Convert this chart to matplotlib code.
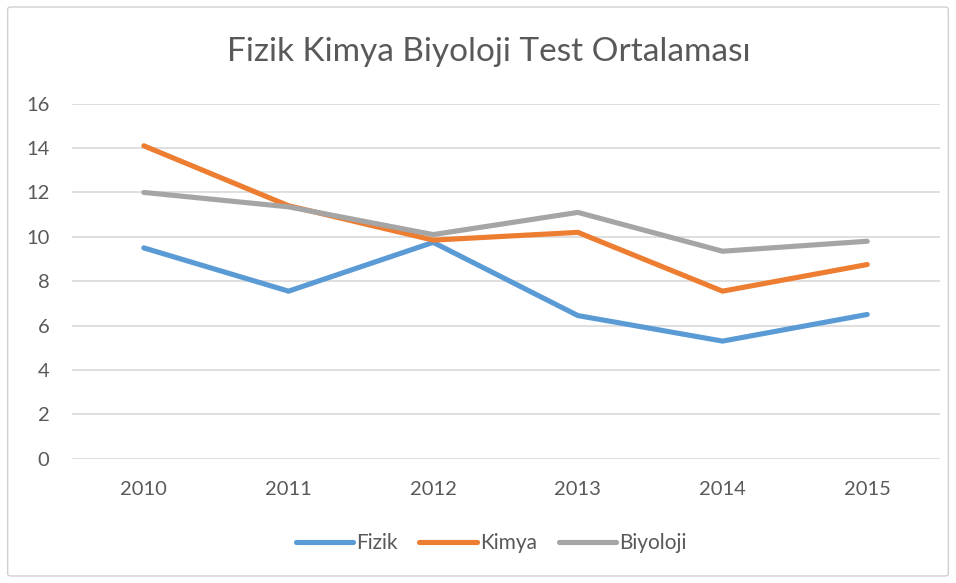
import matplotlib.pyplot as plt
from matplotlib.patches import FancyBboxPatch

plt.rcParams['font.family'] = ['Lato', 'DejaVu Sans']

# DATA
years = ['2010', '2011', '2012', '2013', '2014', '2015']
fizik = [9.5, 7.55, 9.75, 6.45, 5.3, 6.5]
kimya = [14.1, 11.4, 9.85, 10.2, 7.55, 8.75]
biyoloji = [12.0, 11.35, 10.1, 11.1, 9.35, 9.8]
yticks = [0, 2, 4, 6, 8, 10, 12, 14, 16]

# FIGURE
fig = plt.figure(figsize=(9.56, 5.83), dpi=100)
ax = fig.add_axes([0.0748, 0.2132, 0.908, 0.609])

# outer chart border
border = FancyBboxPatch((0.008, 0.012), 0.984, 0.976, boxstyle="round,pad=0,rounding_size=0.004",
                        transform=fig.transFigure, fill=False, edgecolor='#d0d0d0', linewidth=1.0)
fig.patches.append(border)

x = range(len(years))
ax.plot(x, fizik, color='#5b9bd5', lw=3.7, solid_capstyle='round', solid_joinstyle='round', label='Fizik')
ax.plot(x, kimya, color='#ed7d31', lw=3.7, solid_capstyle='round', solid_joinstyle='round', label='Kimya')
ax.plot(x, biyoloji, color='#a5a5a5', lw=3.7, solid_capstyle='round', solid_joinstyle='round', label='Biyoloji')

ax.set_xlim(-0.5, len(years) - 0.5)
ax.set_ylim(0, 16)
ax.set_yticks(yticks)
ax.set_xticks(list(x))
ax.set_xticklabels(years)
ax.yaxis.grid(True, color='#d9d9d9', linewidth=1.2)
ax.set_axisbelow(True)
for s in ax.spines.values():
    s.set_visible(False)
ax.tick_params(axis='both', length=0, labelsize=14.5, colors='#595959')
ax.tick_params(axis='y', pad=16)
ax.tick_params(axis='x', pad=16)

# title
fig.text(489 / 956, 1 - 61 / 583, 'Fizik Kimya Biyoloji Test Ortalaması', ha='center', va='baseline',
         fontsize=24, color='#595959')

leg = ax.legend(loc='center', bbox_to_anchor=(491 / 956, 1 - 543 / 583), bbox_transform=fig.transFigure,
                ncol=3, frameon=False, fontsize=15, handlelength=2.75, handletextpad=0.15,
                columnspacing=1.05)
for t in leg.get_texts():
    t.set_color('#595959')

plt.savefig('out.png', dpi=100)
